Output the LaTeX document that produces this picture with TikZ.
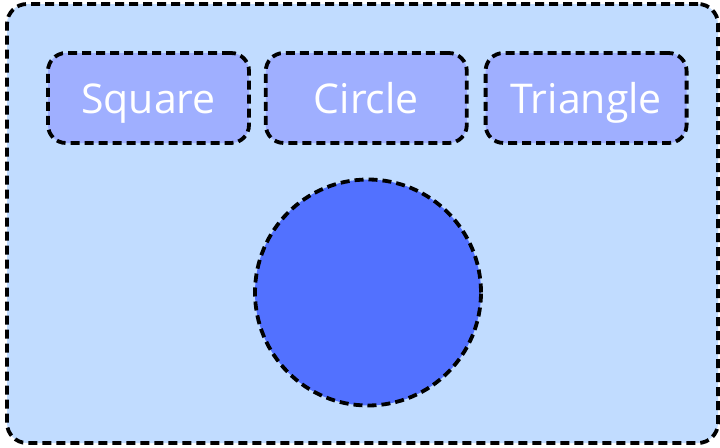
\documentclass[tikz,border=0pt]{standalone}
\usepackage{fontspec}
\setmainfont{Open Sans}
\usetikzlibrary{positioning}
\definecolor{panelblue}{HTML}{C1DCFF}
\definecolor{buttonblue}{HTML}{9FAFFF}
\definecolor{shapeblue}{HTML}{5271FF}

\begin{document}
\begin{tikzpicture}[x=1pt, y=-1pt, node distance={13pt},
  outline/.style = {draw=black, line width=3.8pt, dash pattern=on 9pt off 5pt},
  panel/.style = {outline, fill=panelblue, rounded corners=20pt, minimum width=711pt, minimum height=439pt},
  button/.style = {outline, fill=buttonblue, rounded corners=18pt, minimum width=201pt, minimum height=90pt, text=white, text height=30pt, text depth=0pt, font=\fontsize{41}{46}\selectfont},
  blob/.style = {outline, fill=shapeblue, circle, minimum size=226pt, inner sep=0pt}]
\useasboundingbox (0,0) rectangle (720,447);
\node[panel] (panel) at (362.5,223.5) {};
\node[button] (sq) at (148.5,98) {Square};
\node[button] (ci) [right=of sq] {Circle};
\node[button] (tr) [right=15pt of ci] {Triangle};
\node[blob] (shape) at (368,292.5) {};
\end{tikzpicture}
\end{document}
